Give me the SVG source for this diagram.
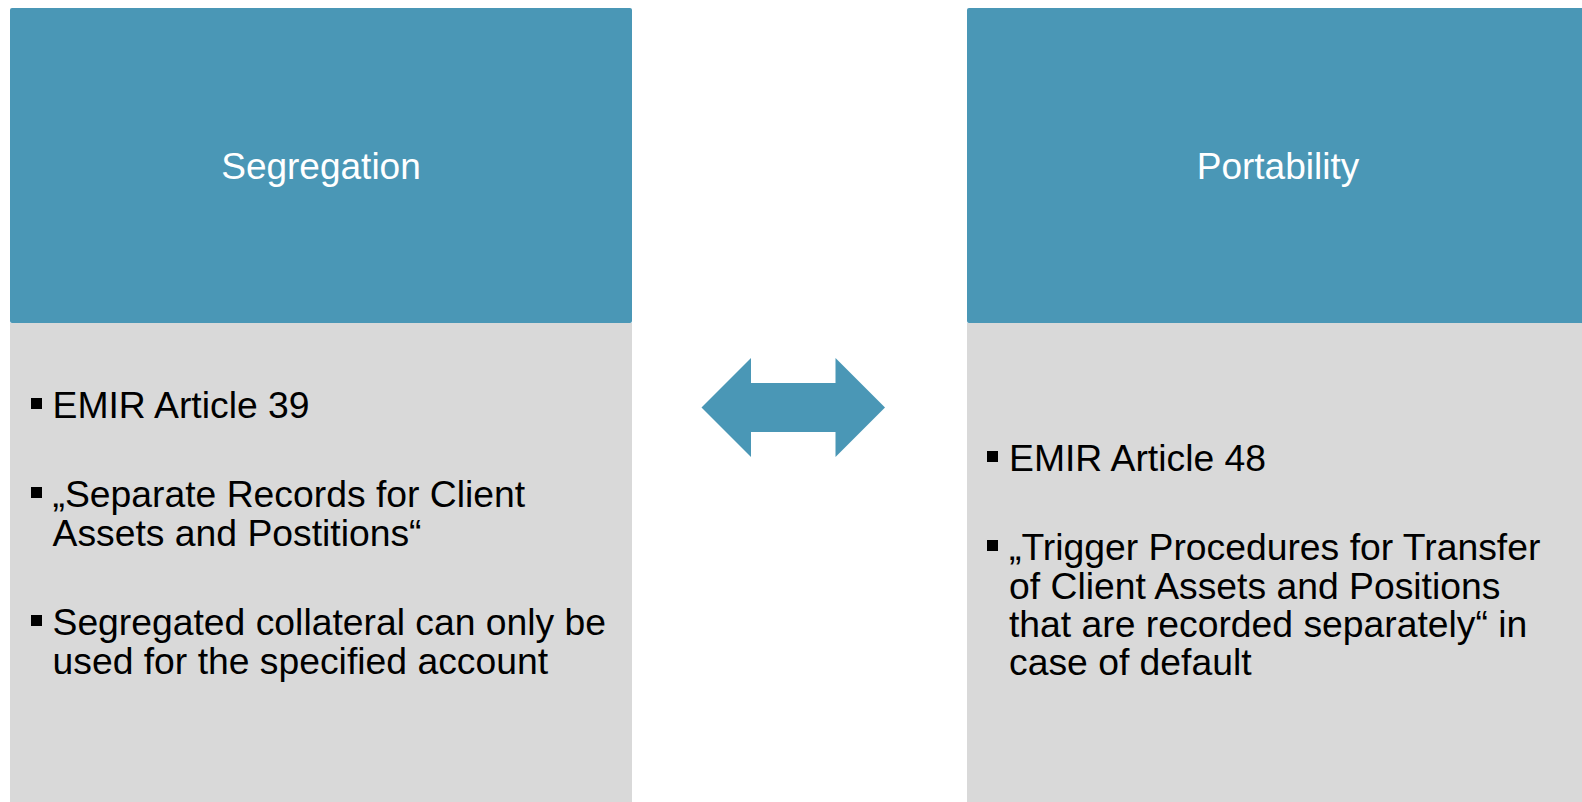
<svg xmlns="http://www.w3.org/2000/svg" width="1582" height="802" viewBox="0 0 1582 802">
<style>
.hdr{fill:#4A97B6}
.body{fill:#D9D9D9}
.title{font-family:"Liberation Sans",Arial,sans-serif;font-size:37px;fill:#FFFFFF;text-anchor:middle}
.txt{font-family:"Liberation Sans",Arial,sans-serif;font-size:37.3px;fill:#000000}
.bul{fill:#000000}
</style>
<rect width="1582" height="802" fill="#FFFFFF"/>
<g id="segregation">
<rect class="body" x="10" y="323" width="622" height="479"/>
<rect class="hdr" x="10" y="8" width="622" height="315" rx="2"/>
<text class="title" x="321" y="179">Segregation</text>
<rect class="bul" x="31" y="398" width="11" height="11"/>
<text class="txt" x="52.5" y="418">EMIR Article 39</text>
<rect class="bul" x="31" y="487" width="11" height="11"/>
<text class="txt" x="52.5" y="507">„Separate Records for Client</text>
<text class="txt" x="52.5" y="546">Assets and Postitions“</text>
<rect class="bul" x="31" y="615" width="11" height="11"/>
<text class="txt" x="52.5" y="635">Segregated collateral can only be</text>
<text class="txt" x="52.5" y="674">used for the specified account</text>
</g>
<g id="portability">
<rect class="body" x="967" y="323" width="622" height="479"/>
<rect class="hdr" x="967" y="8" width="622" height="315" rx="2"/>
<text class="title" x="1278" y="179">Portability</text>
<rect class="bul" x="987" y="451" width="11" height="11"/>
<text class="txt" x="1009" y="471">EMIR Article 48</text>
<rect class="bul" x="987" y="540" width="11" height="11"/>
<text class="txt" x="1009" y="560">„Trigger Procedures for Transfer</text>
<text class="txt" x="1009" y="599">of Client Assets and Positions</text>
<text class="txt" x="1009" y="637">that are recorded separately“ in</text>
<text class="txt" x="1009" y="675">case of default</text>
</g>
<g id="connectors">
<polygon class="hdr" points="701.5,407.5 751,358 751,383 835.5,383 835.5,358 885,407.5 835.5,457 835.5,432 751,432 751,457"/>
</g>
</svg>
